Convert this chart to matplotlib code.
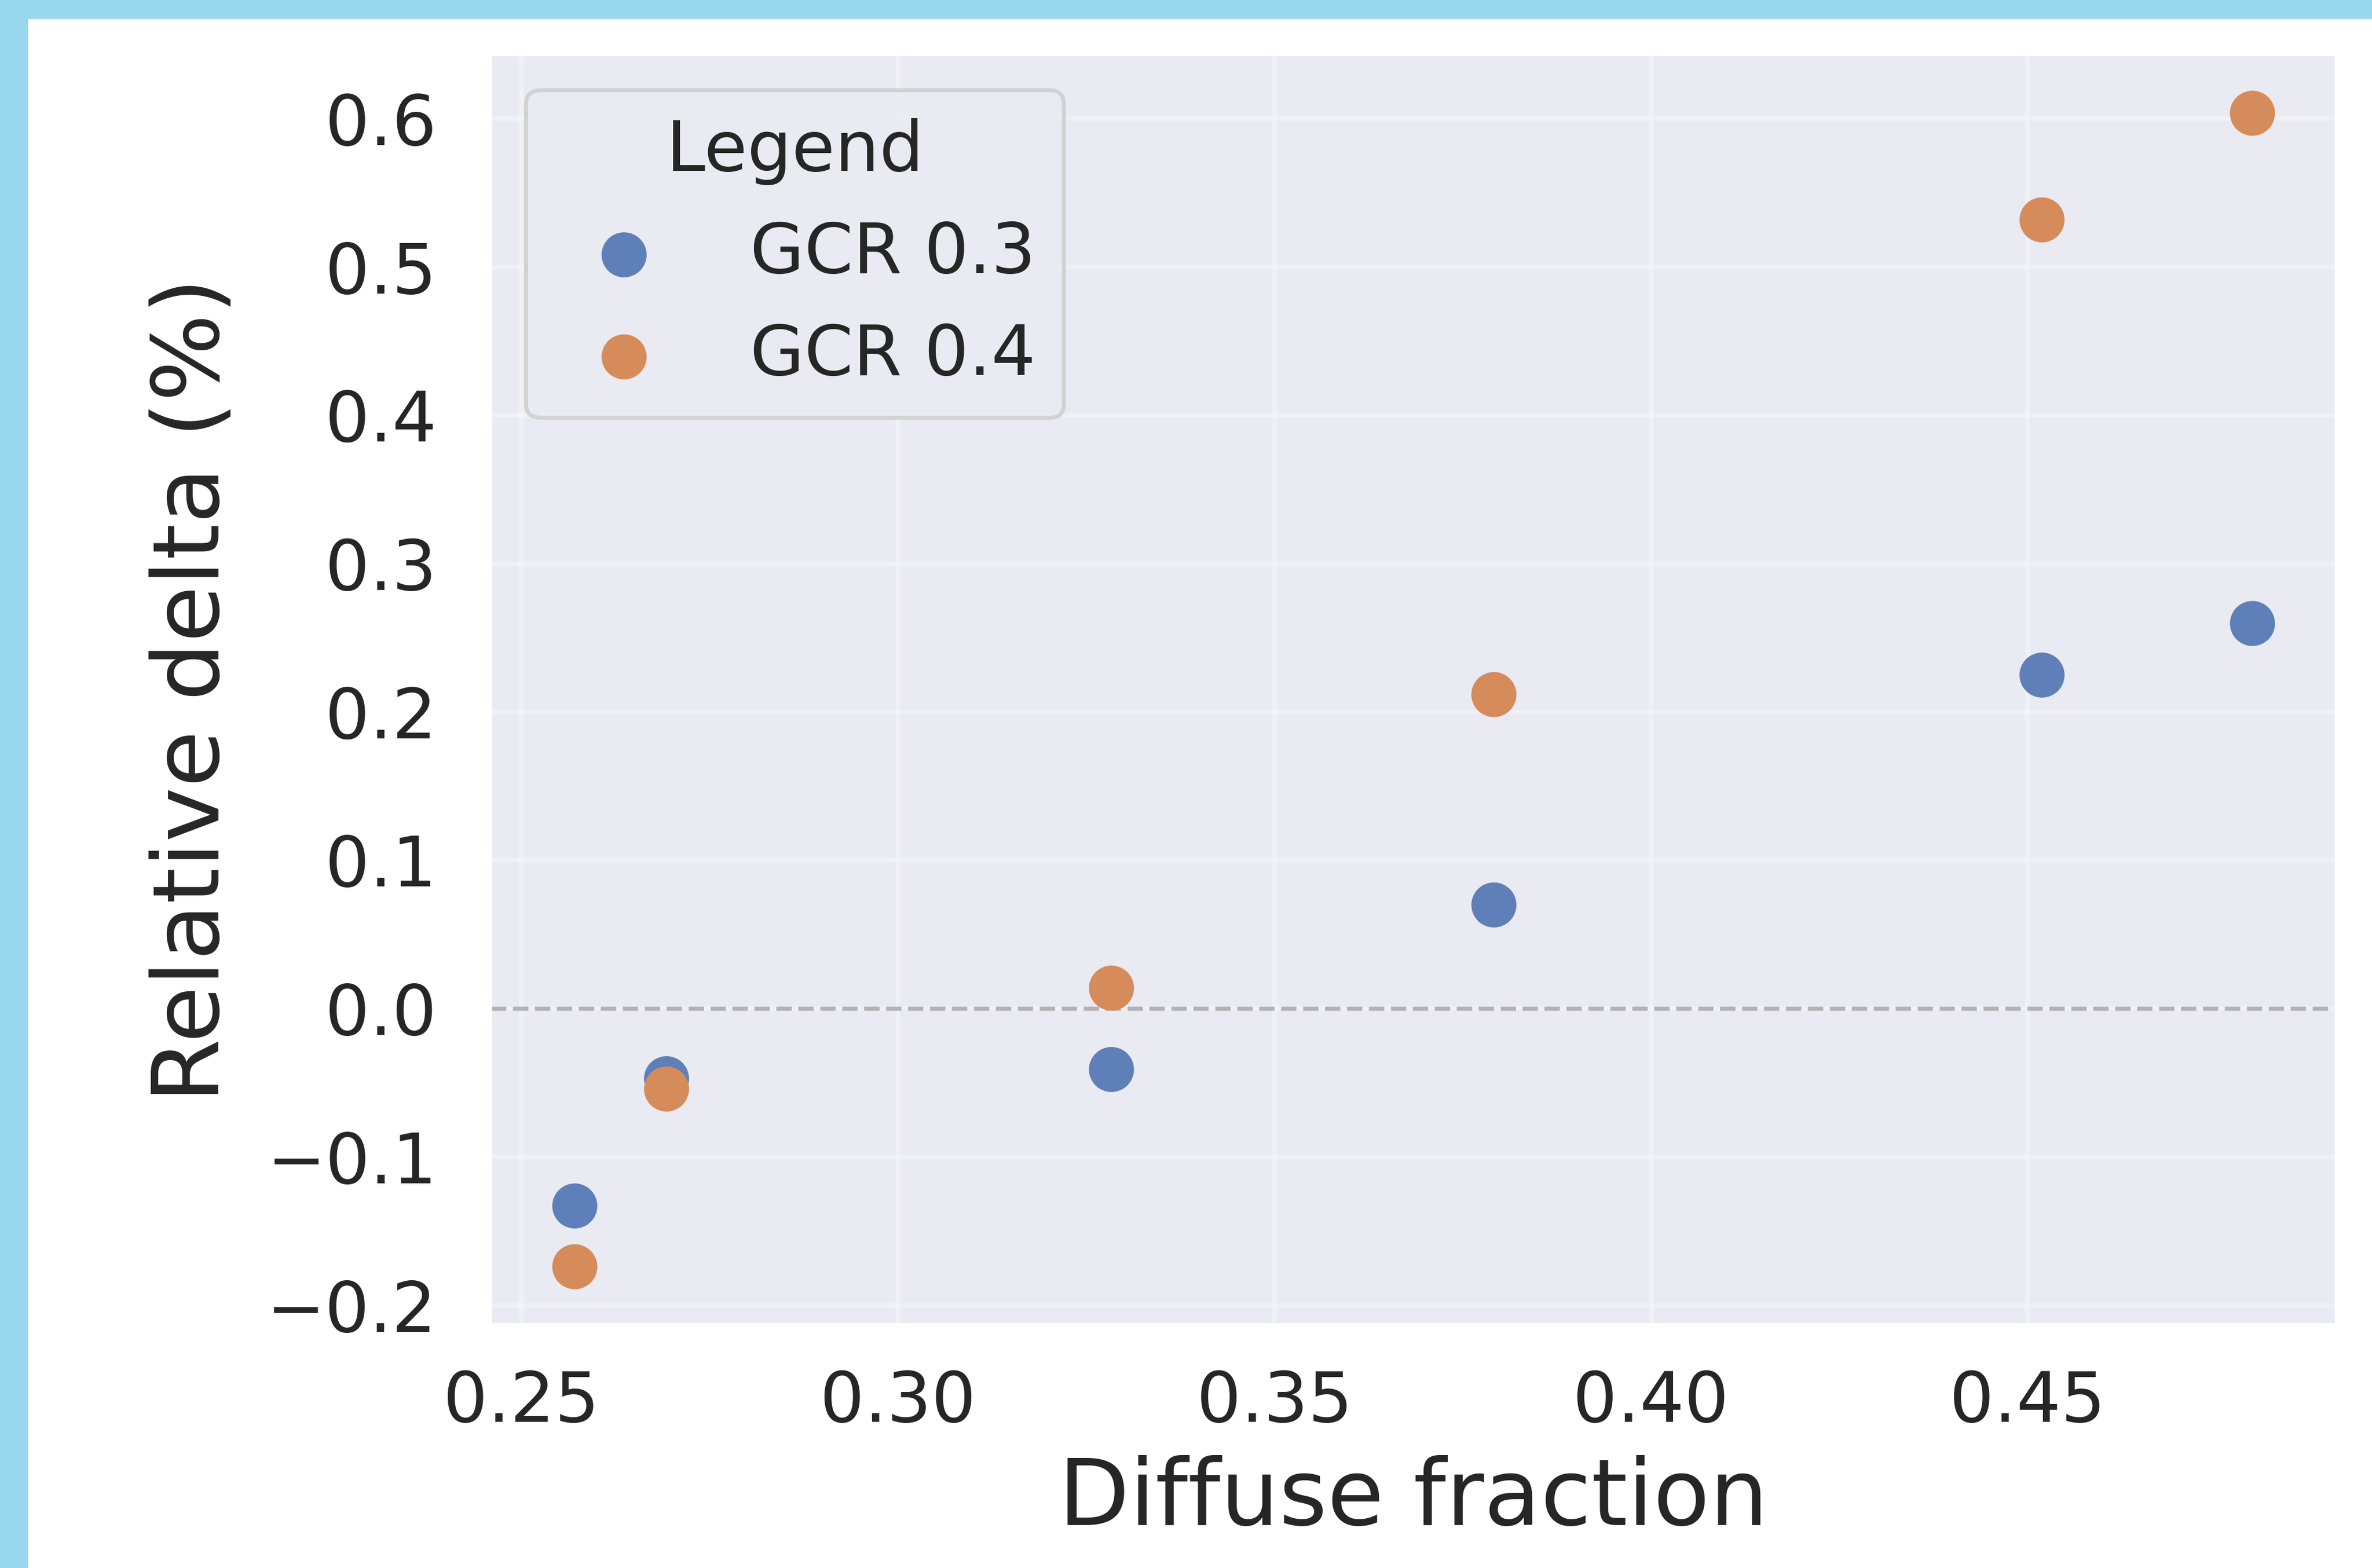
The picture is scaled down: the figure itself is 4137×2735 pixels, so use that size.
import matplotlib
matplotlib.use("Agg")
import matplotlib.pyplot as plt
import seaborn as sns
from matplotlib.patches import Rectangle

# values
diffuse = [0.2571, 0.2693, 0.3283, 0.3791, 0.4519, 0.4798]
gcr_03 = [-0.133, -0.047, -0.041, 0.070, 0.225, 0.260]
gcr_04 = [-0.174, -0.054, 0.014, 0.212, 0.532, 0.604]
labels = ["GCR 0.3", "GCR 0.4"]
colors = ["#5f7fb8", "#d68b5a"]

xticks = [0.25, 0.30, 0.35, 0.40, 0.45]
yticks = [-0.2, -0.1, 0.0, 0.1, 0.2, 0.3, 0.4, 0.5, 0.6]

sns.set_style("darkgrid")
plt.rcParams["font.family"] = ["DejaVu Sans"]
plt.rcParams["text.color"] = "#262626"
plt.rcParams["axes.labelcolor"] = "#262626"
plt.rcParams["xtick.color"] = "#262626"
plt.rcParams["ytick.color"] = "#262626"
plt.rcParams["patch.linewidth"] = 1.25

dpi = 400
fig = plt.figure(figsize=(4137 / dpi, 2735 / dpi), dpi=dpi)
fig.patch.set_facecolor("#9ad8f0")
# white page inside the light blue frame (left and top edges only)
fig.patches.append(Rectangle((49 / 4137, 0), 1, 1 - 33 / 2735,
                             transform=fig.transFigure, facecolor="white",
                             edgecolor="none", zorder=-10))

ax = fig.add_axes([0.2069, 0.1554, 0.7779, 0.8095])
ax.grid(color="white", alpha=0.3, linewidth=1.4)

for ys, lab, col in zip([gcr_03, gcr_04], labels, colors):
    ax.scatter(diffuse, ys, s=200, color=col, linewidth=0, label=lab, zorder=3)

ax.axhline(0, color="grey", alpha=0.55, linestyle="--", linewidth=1.3, zorder=2)

ax.set_xticks(xticks)
ax.set_yticks(yticks)
ax.set_xticklabels([f"{v:.2f}" for v in xticks])
ax.set_yticklabels([f"{v:.1f}".replace("-", "\u2212") for v in yticks])
ax.tick_params(axis="both", labelsize=22, length=0)
ax.tick_params(axis="x", pad=14)
ax.tick_params(axis="y", pad=17)

ax.set_xlabel("Diffuse fraction", fontsize=29, labelpad=6)
ax.set_ylabel("Relative delta (%)", fontsize=29, labelpad=9)

ax.legend(title="Legend", loc="upper left", fontsize=22, title_fontsize=22)

fig.savefig("out.png", dpi=dpi)
